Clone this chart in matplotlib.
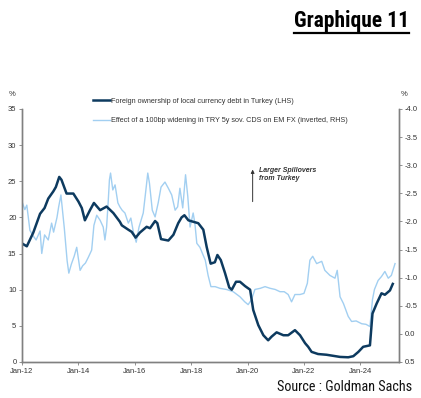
import matplotlib
matplotlib.use("Agg")
import matplotlib.pyplot as plt
from matplotlib import font_manager as fm

# ---- data ----
dark_x = [2012.0, 2012.17, 2012.4, 2012.64, 2012.8, 2012.93, 2013.11, 2013.2, 2013.32, 2013.4,
          2013.58, 2013.82, 2014.0, 2014.12, 2014.23, 2014.41, 2014.55, 2014.77, 2015.0, 2015.24,
          2015.47, 2015.54, 2015.77, 2015.89, 2016.03, 2016.18, 2016.42, 2016.54, 2016.72, 2016.8,
          2016.93, 2017.19, 2017.37, 2017.54, 2017.66, 2017.76, 2017.9, 2018.07, 2018.25, 2018.43,
          2018.55, 2018.69, 2018.84, 2018.93, 2019.05, 2019.2, 2019.35, 2019.44, 2019.59, 2019.73,
          2019.91, 2020.09, 2020.2, 2020.38, 2020.56, 2020.73, 2020.85, 2021.03, 2021.27, 2021.44,
          2021.68, 2021.86, 2022.04, 2022.15, 2022.27, 2022.5, 2022.8, 2023.28, 2023.57, 2023.75,
          2023.93, 2024.1, 2024.34, 2024.43, 2024.58, 2024.75, 2024.87, 2025.05, 2025.15]
dark_y = [16.4, 16.0, 17.9, 20.5, 21.3, 22.6, 23.6, 24.2, 25.6, 25.2,
          23.3, 23.3, 22.2, 21.3, 19.6, 21.0, 22.0, 21.0, 21.5, 20.6,
          19.4, 18.9, 18.3, 18.0, 17.2, 17.9, 18.7, 18.5, 19.5, 19.2,
          17.0, 16.8, 17.6, 19.2, 20.0, 20.3, 19.6, 19.4, 19.2, 18.3,
          15.9, 13.6, 13.8, 14.8, 14.1, 12.3, 10.3, 10.0, 11.1, 11.1,
          10.5, 10.0, 7.2, 5.1, 3.7, 3.0, 3.5, 4.1, 3.7, 3.7,
          4.4, 3.7, 2.6, 2.1, 1.4, 1.1, 1.0, 0.7, 0.65, 0.8,
          1.4, 2.1, 2.3, 6.7, 8.1, 9.5, 9.3, 9.9, 10.8]

light_x = [2012.0, 2012.1, 2012.17, 2012.28, 2012.4, 2012.5, 2012.64, 2012.7, 2012.8, 2012.93,
           2013.05, 2013.12, 2013.24, 2013.3, 2013.38, 2013.5, 2013.6, 2013.66, 2013.75, 2013.85,
           2013.94, 2014.06, 2014.15, 2014.25, 2014.35, 2014.47, 2014.55, 2014.65, 2014.77, 2014.88,
           2014.94, 2015.0, 2015.06, 2015.1, 2015.14, 2015.22, 2015.3, 2015.4, 2015.47, 2015.55,
           2015.65, 2015.77, 2015.86, 2015.95, 2016.05, 2016.15, 2016.3, 2016.38, 2016.46, 2016.52,
           2016.62, 2016.72, 2016.83, 2016.93, 2017.07, 2017.19, 2017.31, 2017.43, 2017.52, 2017.6,
           2017.7, 2017.8, 2017.88, 2017.96, 2018.07, 2018.13, 2018.2, 2018.31, 2018.4, 2018.5,
           2018.6, 2018.7, 2018.85, 2019.02, 2019.25, 2019.49, 2019.73, 2019.9, 2020.02, 2020.14,
           2020.26, 2020.45, 2020.62, 2020.8, 2020.98, 2021.15, 2021.3, 2021.44, 2021.56, 2021.68,
           2021.86, 2022.0, 2022.12, 2022.21, 2022.31, 2022.45, 2022.63, 2022.74, 2022.92, 2023.1,
           2023.18, 2023.28, 2023.4, 2023.57, 2023.69, 2023.85, 2024.05, 2024.2, 2024.34, 2024.43,
           2024.5, 2024.63, 2024.75, 2024.87, 2024.99, 2025.1, 2025.23]
light_y = [-2.35, -2.21, -2.29, -1.84, -1.74, -1.67, -1.83, -1.43, -1.76, -1.67,
           -1.97, -1.81, -2.07, -2.26, -2.47, -1.88, -1.30, -1.08, -1.24, -1.38,
           -1.54, -1.13, -1.21, -1.26, -1.36, -1.49, -1.93, -2.11, -2.02, -1.90,
           -1.67, -1.90, -2.38, -2.74, -2.86, -2.56, -2.65, -2.33, -2.26, -2.20,
           -2.15, -1.97, -2.06, -1.81, -1.63, -1.90, -2.15, -2.50, -2.86, -2.68,
           -2.20, -2.08, -2.33, -2.61, -2.70, -2.59, -2.47, -2.20, -2.26, -2.59,
           -2.24, -2.83, -2.44, -1.90, -2.15, -1.97, -1.61, -1.54, -1.43, -1.31,
           -1.04, -0.84, -0.84, -0.81, -0.79, -0.75, -0.66, -0.57, -0.52, -0.61,
           -0.79, -0.81, -0.84, -0.81, -0.79, -0.75, -0.75, -0.70, -0.57, -0.70,
           -0.70, -0.72, -0.90, -1.31, -1.38, -1.25, -1.29, -1.13, -1.04, -0.99,
           -1.13, -0.66, -0.54, -0.31, -0.22, -0.23, -0.18, -0.17, -0.13, -0.61,
           -0.79, -0.95, -1.02, -1.11, -0.99, -1.04, -1.25]

xtick_pos = [2012, 2014, 2016, 2018, 2020, 2022, 2024]
xtick_labels = ["Jan-12", "Jan-14", "Jan-16", "Jan-18", "Jan-20", "Jan-22", "Jan-24"]
left_ticks = [0, 5, 10, 15, 20, 25, 30, 35]
right_ticks = [-4.0, -3.5, -3.0, -2.5, -2.0, -1.5, -1.0, -0.5, 0.0, 0.5]

dark_label = "Foreign ownership of local currency debt in Turkey (LHS)"
light_label = "Effect of a 100bp widening in TRY 5y sov. CDS on EM FX (inverted, RHS)"

DARK = "#0d3a5f"
LIGHT = "#a2cff1"
GREY = "#808080"
TXT = "#333333"

plt.rcParams['font.family'] = ['Liberation Sans', 'DejaVu Sans']

names = {f.name for f in fm.fontManager.ttflist}
narrow = None
for cand in ['Liberation Sans Narrow', 'Roboto Condensed', 'Open Sans Condensed', 'DejaVu Sans Condensed']:
    if cand in names:
        narrow = cand
        break
title_kw = dict(family=[narrow] if narrow else ['DejaVu Sans'], stretch='condensed')

fig = plt.figure(figsize=(4.21, 3.98), dpi=100)
ax = fig.add_axes([0.0523, 0.0905, 0.8954, 0.6357])
ax2 = ax.twinx()

l2, = ax2.plot(light_x, light_y, color=LIGHT, lw=1.0)
l1, = ax.plot(dark_x, dark_y, color=DARK, lw=1.8)
ax.set_zorder(ax2.get_zorder() + 1)
ax.patch.set_visible(False)

ax.set_xlim(2012.0, 2025.37)
ax.set_ylim(0, 35)
ax2.set_ylim(0.5, -4.0)

ax.set_xticks(xtick_pos)
ax.set_xticklabels(xtick_labels)
ax.set_yticks(left_ticks)
ax.set_yticklabels([str(v) for v in left_ticks])
ax2.set_yticks(right_ticks)
ax2.set_yticklabels(["%.1f" % v for v in right_ticks])

for a in (ax, ax2):
    a.spines['top'].set_visible(False)
    for s in ('left', 'right', 'bottom'):
        a.spines[s].set_color(GREY)
        a.spines[s].set_linewidth(1.0)
    a.tick_params(labelsize=5.5, colors=GREY, labelcolor=TXT, length=2.5, width=0.6, pad=1.5)

ax.text(-0.035, 1.045, "%", transform=ax.transAxes, fontsize=5.5, color=TXT, ha='left', va='bottom')
ax2.text(1.005, 1.045, "%", transform=ax.transAxes, fontsize=5.5, color=TXT, ha='left', va='bottom')

leg = ax.legend([l1, l2], [dark_label, light_label], loc='upper left',
                bbox_to_anchor=(0.17, 1.07), frameon=False, fontsize=5.2,
                handlelength=2.4, handletextpad=0.2, labelspacing=1.7, labelcolor=TXT)

ax.annotate("", xy=(2020.18, 27.0), xytext=(2020.18, 21.8),
            arrowprops=dict(arrowstyle='-|>', color='#333333', lw=0.7, mutation_scale=5))
ax.text(2020.42, 27.0, "Larger Spillovers\nfrom Turkey", fontsize=5, style='italic',
        fontweight='bold', color=TXT, ha='left', va='top', linespacing=1.2)

title = fig.text(0.972, 0.946, "Graphique 11", fontsize=15.5, fontweight='bold', ha='right', va='center',
                 color='black', **title_kw)
fig.canvas.draw()
bb = title.get_window_extent().transformed(fig.transFigure.inverted())
fig.add_artist(plt.Line2D([bb.x0, bb.x1], [0.917, 0.917], color='black', lw=1.6,
                          transform=fig.transFigure))
fig.text(0.978, 0.027, "Source : Goldman Sachs", fontsize=10.2, ha='right', va='center',
         color='#111111', **title_kw)

fig.savefig("out.png", dpi=100)
